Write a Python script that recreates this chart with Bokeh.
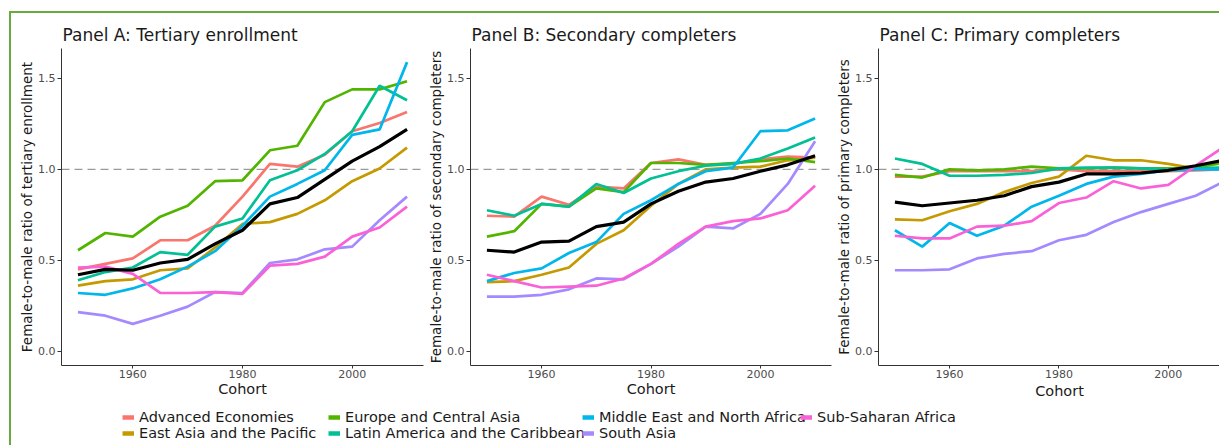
from bokeh.plotting import figure
from bokeh.layouts import row, column
from bokeh.models import (Range1d, FixedTicker, Span, Legend, LegendItem, Title,
                          NumeralTickFormatter)
from bokeh.embed import file_html
from bokeh.resources import INLINE

# ---------------- data ----------------
cohorts = [1950, 1955, 1960, 1965, 1970, 1975, 1980, 1985, 1990, 1995, 2000, 2005, 2010]

regions = ["Advanced Economies", "East Asia and the Pacific", "Europe and Central Asia",
           "Latin America and the Caribbean", "Middle East and North Africa", "South Asia",
           "Sub-Saharan Africa"]
colors = ["#F8766D", "#C49A00", "#53B400", "#00C094", "#00B6EB", "#A58AFF", "#FB61D7"]

panel_titles = ["Panel A: Tertiary enrollment", "Panel B: Secondary completers",
                "Panel C: Primary completers"]
y_labels = ["Female-to-male ratio of tertiary enrollment",
            "Female-to-male ratio of secondary completers",
            "Female-to-male ratio of primary completers"]
x_label = "Cohort"
x_ticks = [1960, 1980, 2000]
y_ticks = [0.0, 0.5, 1.0, 1.5]

# Panel A: tertiary enrollment
adv_A = [0.45, 0.48, 0.51, 0.61, 0.61, 0.69, 0.85, 1.03, 1.015, 1.08, 1.21, 1.255, 1.315]
eap_A = [0.36, 0.385, 0.395, 0.445, 0.455, 0.57, 0.70, 0.71, 0.755, 0.83, 0.935, 1.005, 1.12]
eca_A = [0.555, 0.65, 0.63, 0.74, 0.80, 0.935, 0.94, 1.105, 1.13, 1.37, 1.44, 1.44, 1.485]
lac_A = [0.39, 0.435, 0.46, 0.545, 0.53, 0.685, 0.73, 0.94, 0.995, 1.085, 1.21, 1.46, 1.38]
mena_A = [0.32, 0.31, 0.345, 0.395, 0.465, 0.55, 0.69, 0.85, 0.92, 0.995, 1.19, 1.22, 1.59]
sa_A = [0.215, 0.195, 0.15, 0.195, 0.245, 0.325, 0.32, 0.485, 0.505, 0.56, 0.575, 0.72, 0.85]
ssa_A = [0.46, 0.465, 0.425, 0.32, 0.32, 0.325, 0.315, 0.47, 0.48, 0.52, 0.63, 0.68, 0.795]
all_A = [0.42, 0.45, 0.445, 0.485, 0.505, 0.59, 0.665, 0.81, 0.845, 0.945, 1.045, 1.125, 1.22]

# Panel B: secondary completers
adv_B = [0.745, 0.74, 0.85, 0.805, 0.905, 0.895, 1.035, 1.055, 1.025, 1.03, 1.055, 1.07, 1.065]
eap_B = [0.38, 0.385, 0.42, 0.46, 0.59, 0.665, 0.80, 0.92, 1.0, 1.01, 1.015, 1.05, 1.065]
eca_B = [0.63, 0.66, 0.81, 0.795, 0.895, 0.875, 1.035, 1.035, 1.025, 1.035, 1.045, 1.06, 1.04]
lac_B = [0.775, 0.745, 0.81, 0.795, 0.92, 0.87, 0.95, 0.99, 1.02, 1.03, 1.06, 1.115, 1.175]
mena_B = [0.385, 0.43, 0.455, 0.54, 0.60, 0.755, 0.83, 0.92, 0.99, 1.01, 1.21, 1.215, 1.28]
sa_B = [0.30, 0.30, 0.31, 0.34, 0.40, 0.395, 0.48, 0.575, 0.685, 0.675, 0.755, 0.92, 1.155]
ssa_B = [0.42, 0.385, 0.35, 0.355, 0.36, 0.40, 0.48, 0.59, 0.685, 0.715, 0.73, 0.775, 0.91]
all_B = [0.555, 0.545, 0.60, 0.605, 0.685, 0.71, 0.81, 0.88, 0.93, 0.95, 0.99, 1.025, 1.075]

# Panel C: primary completers
adv_C = [0.96, 0.96, 0.99, 0.99, 0.99, 0.99, 1.0, 0.99, 0.99, 0.99, 0.99, 0.995, 1.0]
eap_C = [0.725, 0.72, 0.77, 0.81, 0.875, 0.925, 0.96, 1.075, 1.05, 1.05, 1.03, 1.005, 1.0]
eca_C = [0.97, 0.955, 1.0, 0.995, 1.0, 1.015, 1.005, 1.005, 1.01, 1.005, 1.005, 1.01, 1.035]
lac_C = [1.06, 1.03, 0.965, 0.965, 0.97, 0.98, 1.005, 1.01, 1.01, 1.005, 1.0, 1.005, 1.01]
mena_C = [0.665, 0.575, 0.705, 0.635, 0.69, 0.795, 0.855, 0.92, 0.96, 0.975, 0.995, 1.0, 1.0]
sa_C = [0.445, 0.445, 0.45, 0.51, 0.535, 0.55, 0.61, 0.64, 0.71, 0.765, 0.81, 0.855, 0.93]
ssa_C = [0.635, 0.62, 0.62, 0.685, 0.69, 0.715, 0.815, 0.845, 0.935, 0.895, 0.915, 1.02, 1.12]
all_C = [0.82, 0.80, 0.815, 0.83, 0.855, 0.905, 0.93, 0.975, 0.975, 0.98, 0.995, 1.02, 1.05]

panel_series = [
    [adv_A, eap_A, eca_A, lac_A, mena_A, sa_A, ssa_A],
    [adv_B, eap_B, eca_B, lac_B, mena_B, sa_B, ssa_B],
    [adv_C, eap_C, eca_C, lac_C, mena_C, sa_C, ssa_C],
]
panel_overall = [all_A, all_B, all_C]

# ---------------- style ----------------
FONT = "DejaVu Sans"
X0, X1 = 1947, 2013
Y0, Y1 = -0.079, 1.665
FULL_W = 362
PX_PER_YEAR = FULL_W / (X1 - X0)
PH = 387
FRAME_H = 317
TOP = 35
BOTTOM = PH - TOP - FRAME_H
XLAB_SIZE = 14.5
XLAB_W_EM = 3.36   # approximate width of "Cohort" in em


def make_panel(k, width, left, right, frame_w):
    x_end = X0 + frame_w / PX_PER_YEAR
    p = figure(width=width, height=PH, output_backend="svg", toolbar_location=None,
               x_range=Range1d(X0, x_end), y_range=Range1d(Y0, Y1),
               min_border_left=left, min_border_right=right,
               min_border_top=TOP, min_border_bottom=BOTTOM,
               title=panel_titles[k])
    p.grid.visible = False
    p.outline_line_color = None
    p.title.text_font = FONT
    p.title.text_font_size = "17px"
    p.title.text_font_style = "normal"
    p.title.text_color = "#1a1a1a"
    p.title.align = "left"
    p.title.offset = 1
    p.title.standoff = 8

    p.add_layout(Span(location=1.0, dimension="width", line_color="#9a9a9a",
                      line_dash="8 5", line_width=1.2, level="underlay"))

    for vals, c in zip(panel_series[k], colors):
        p.line(cohorts, vals, line_color=c, line_width=2.7)
    p.line(cohorts, panel_overall[k], line_color="black", line_width=3.2)

    xa, ya = p.xaxis[0], p.yaxis[0]
    for ax in (xa, ya):
        ax.axis_line_color = "#333333"
        ax.axis_line_width = 1
        ax.major_tick_line_color = "#333333"
        ax.major_tick_in = 0
        ax.minor_tick_line_color = None
        ax.major_label_text_font = FONT
        ax.major_label_text_font_size = "11px"
        ax.major_label_text_color = "#4d4d4d"
        ax.axis_label_text_font = FONT
        ax.axis_label_text_font_style = "normal"
        ax.axis_label_text_color = "#1a1a1a"
    xa.ticker = FixedTicker(ticks=x_ticks)
    xa.major_tick_out = 3
    xa.major_label_standoff = 1
    ya.ticker = FixedTicker(ticks=y_ticks)
    ya.formatter = NumeralTickFormatter(format="0.0")
    ya.major_tick_out = 4
    ya.major_label_standoff = 2
    ya.axis_label = y_labels[k]
    ya.axis_label_text_font_size = "13.5px"
    ya.axis_label_standoff = 0
    if frame_w >= FULL_W:
        xa.axis_label = x_label
        xa.axis_label_text_font_size = f"{XLAB_SIZE}px"
        xa.axis_label_standoff = 0
    else:
        # panel cropped on the right: keep the label centred on the full panel width
        off = FULL_W / 2 - XLAB_W_EM * XLAB_SIZE / 2
        p.add_layout(Title(text=x_label, align="left", offset=off,
                           standoff=0, text_font=FONT, text_font_size=f"{XLAB_SIZE}px",
                           text_font_style="normal", text_color="#1a1a1a"), "below")
    return p


pA = make_panel(0, 414, 50, 2, FULL_W)
pB = make_panel(1, 408, 44, 2, FULL_W)
pC = make_panel(2, 386, 44, 0, 342)

# ---------------- legend strip ----------------
LH = 45
leg = figure(width=1208, height=LH, output_backend="svg", toolbar_location=None,
             x_range=Range1d(0, 1), y_range=Range1d(0, 1), min_border=0,
             x_axis_location=None, y_axis_location=None)
leg.outline_line_color = None
leg.grid.visible = False
# key-only renderers, placed outside the visible range of this strip
rends = [leg.line(x=[-3, -2], y=[-3, -2], line_color=c, line_width=4.5) for c in colors]

legend_cols = [[0, 1], [2, 3], [4, 5], [6]]
legend_x = [111, 317, 571, 789]
ROW_H = 16
for idxs, lx in zip(legend_cols, legend_x):
    n = len(idxs)
    vy = LH - 9 - n * ROW_H
    lg = Legend(items=[LegendItem(label=regions[i], renderers=[rends[i]]) for i in idxs],
                location=(lx, vy), orientation="vertical",
                glyph_width=12, glyph_height=14, label_height=14, label_width=10,
                spacing=0, padding=0, margin=0, label_standoff=5,
                border_line_color=None, background_fill_alpha=0,
                label_text_font=FONT, label_text_font_size="14.5px",
                label_text_color="#1a1a1a")
    leg.add_layout(lg)

layout = column(row(pA, pB, pC), leg, margin=(11, 0, 0, 9),
                styles={"border-left": "2px solid #66aa40", "border-top": "2px solid #66aa40"})

open("out.html", "w").write(file_html(layout, INLINE))
